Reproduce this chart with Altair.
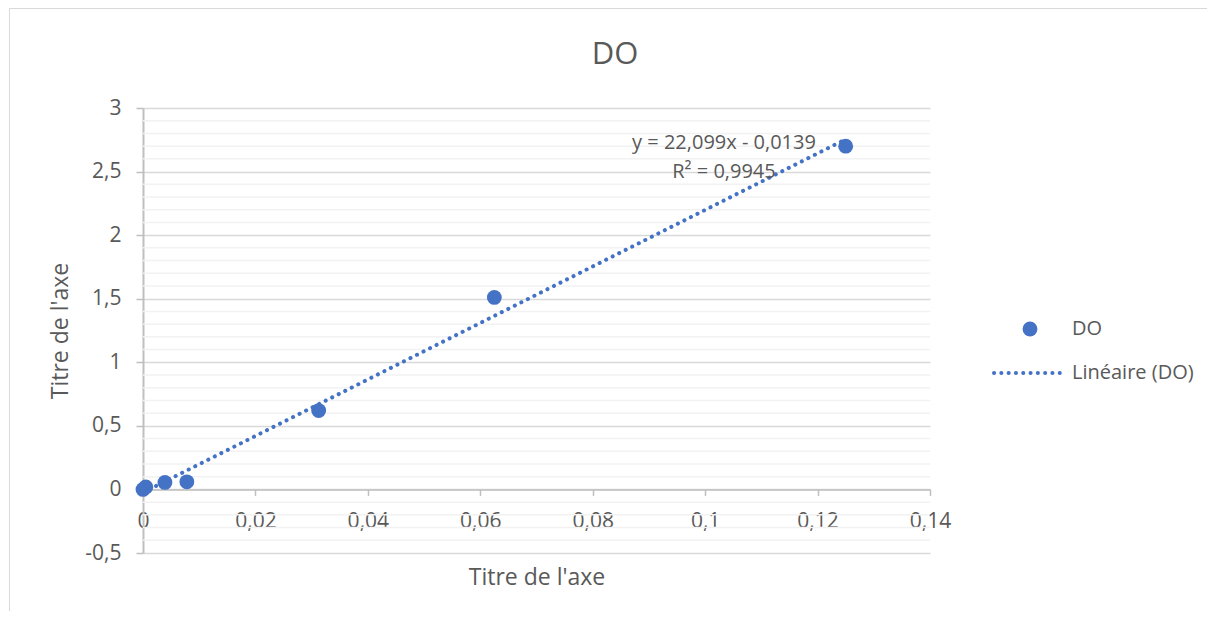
import altair as alt
import pandas as pd

# ---- data ----
conc = [0.0, 0.0005, 0.0039, 0.0078, 0.03125, 0.0625, 0.125]
do_vals = [0.0, 0.02, 0.055, 0.06, 0.62, 1.51, 2.70]
x_ticks = [0, 0.02, 0.04, 0.06, 0.08, 0.10, 0.12, 0.14]
y_ticks = [-0.5, 0, 0.5, 1, 1.5, 2, 2.5, 3]
y_minor = [-0.4, -0.3, -0.2, -0.1, 0.1, 0.2, 0.3, 0.4, 0.6, 0.7, 0.8, 0.9,
           1.1, 1.2, 1.3, 1.4, 1.6, 1.7, 1.8, 1.9, 2.1, 2.2, 2.3, 2.4,
           2.6, 2.7, 2.8, 2.9]
chart_title = ["DO"]
x_title = "Titre de l'axe"
y_title = "Titre de l'axe"
eq_line1 = ["y = 22,099x - 0,0139"]
eq_line2 = ["R² = 0,9945"]
legend_point_label = ["DO"]
legend_line_label = ["Linéaire (DO)"]

# ---- layout ----
W, H = 787, 445
XMIN, XMAX = 0, 0.14
YMIN, YMAX = -0.5, 3
PAD = {"left": 135, "top": 100, "right": 277, "bottom": 58}
BLUE = "#4472C4"
TXT = "#595959"
FONT = "Open Sans"
zero_offset = -H * (0 - YMIN) / (YMAX - YMIN)

label_expr = "replace(replace(format(datum.value, '~g'), '.', ','), '\u2212', '-')"

xscale = alt.Scale(domain=[XMIN, XMAX], nice=False, zero=False)
yscale = alt.Scale(domain=[YMIN, YMAX], nice=False, zero=False)

df = pd.DataFrame({"x": conc, "y": do_vals})

x_axis = alt.Axis(
    values=x_ticks, labelExpr=label_expr, title=x_title, grid=False,
    offset=zero_offset, tickSize=6, tickColor="#bfbfbf", tickWidth=1.5,
    domainColor="#bfbfbf", domainWidth=1.5,
    labelPadding=26, labelBaseline="middle", labelFlush=False, labelOverlap=False,
    labelFontSize=21, labelColor=TXT, labelFont=FONT,
    titleFontSize=23, titleColor=TXT, titleFont=FONT, titleFontWeight="normal",
    titleY=469 - (H + zero_offset), titleBaseline="middle",
)
y_axis = alt.Axis(
    values=y_ticks, labelExpr=label_expr, title=y_title, grid=True,
    gridColor="#d9d9d9", gridWidth=1.5,
    tickSize=7, tickColor="#bfbfbf", tickWidth=1.5,
    domainColor="#bfbfbf", domainWidth=2,
    labelPadding=15, labelFlush=False, labelOverlap=False,
    labelFontSize=21, labelColor=TXT, labelFont=FONT,
    titleFontSize=23, titleColor=TXT, titleFont=FONT, titleFontWeight="normal",
    titleX=-83, titleBaseline="middle",
)

minor = alt.Chart(pd.DataFrame({"y": y_minor})).mark_rule(
    color="#f2f2f2", strokeWidth=1.5
).encode(y=alt.Y("y:Q", scale=yscale, axis=y_axis))

points = alt.Chart(df).mark_circle(size=220, color=BLUE, opacity=1).encode(
    x=alt.X("x:Q", scale=xscale, axis=x_axis),
    y=alt.Y("y:Q", scale=yscale, axis=y_axis),
)

dot_style = dict(color=BLUE, strokeWidth=4, strokeDash=[0.1, 7.2], strokeCap="round")

trend = alt.Chart(df).transform_regression("x", "y").mark_line(**dot_style).encode(
    x=alt.X("x:Q", scale=xscale, axis=x_axis), y=alt.Y("y:Q", scale=yscale, axis=y_axis)
)

def label(values, x, y, size=20, align="center"):
    return alt.Chart(pd.DataFrame({"t": values})).mark_text(
        font=FONT, fontSize=size, color=TXT, align=align, baseline="middle"
    ).encode(text="t:N", x=alt.value(x), y=alt.value(y))

title = label(chart_title, 472, -53, size=31)
eq1 = label(eq_line1, 581, 35)
eq2 = label(eq_line2, 581, 64)

leg_pt = alt.Chart(pd.DataFrame({"t": legend_point_label})).mark_circle(
    size=220, color=BLUE, opacity=1
).encode(x=alt.value(887), y=alt.value(221))
leg_pt_txt = label(legend_point_label, 929, 221, align="left")
leg_line = alt.Chart(pd.DataFrame({"t": legend_line_label})).mark_rule(**dot_style).encode(
    x=alt.value(851), x2=alt.value(917), y=alt.value(265)
)
leg_line_txt = label(legend_line_label, 929, 265, align="left")

border = alt.Chart(pd.DataFrame({"t": ["frame"]})).mark_rect(
    fillOpacity=0, stroke="#d9d9d9", strokeWidth=1
).encode(
    x=alt.value(-PAD["left"] + 1.5), x2=alt.value(W + PAD["right"] + 20),
    y=alt.value(-PAD["top"] + 0.5), y2=alt.value(H + PAD["bottom"] + 20),
)

chart = alt.layer(
    minor, points, trend, title, eq1, eq2, leg_pt, leg_pt_txt, leg_line, leg_line_txt, border
).properties(
    width=W, height=H,
    autosize=alt.AutoSizeParams(type="none"),
    padding=PAD,
).configure(
    background="white", font=FONT, view=alt.ViewConfig(stroke=None)
)

chart.save("out.html", embed_options={"renderer": "svg", "actions": False})
